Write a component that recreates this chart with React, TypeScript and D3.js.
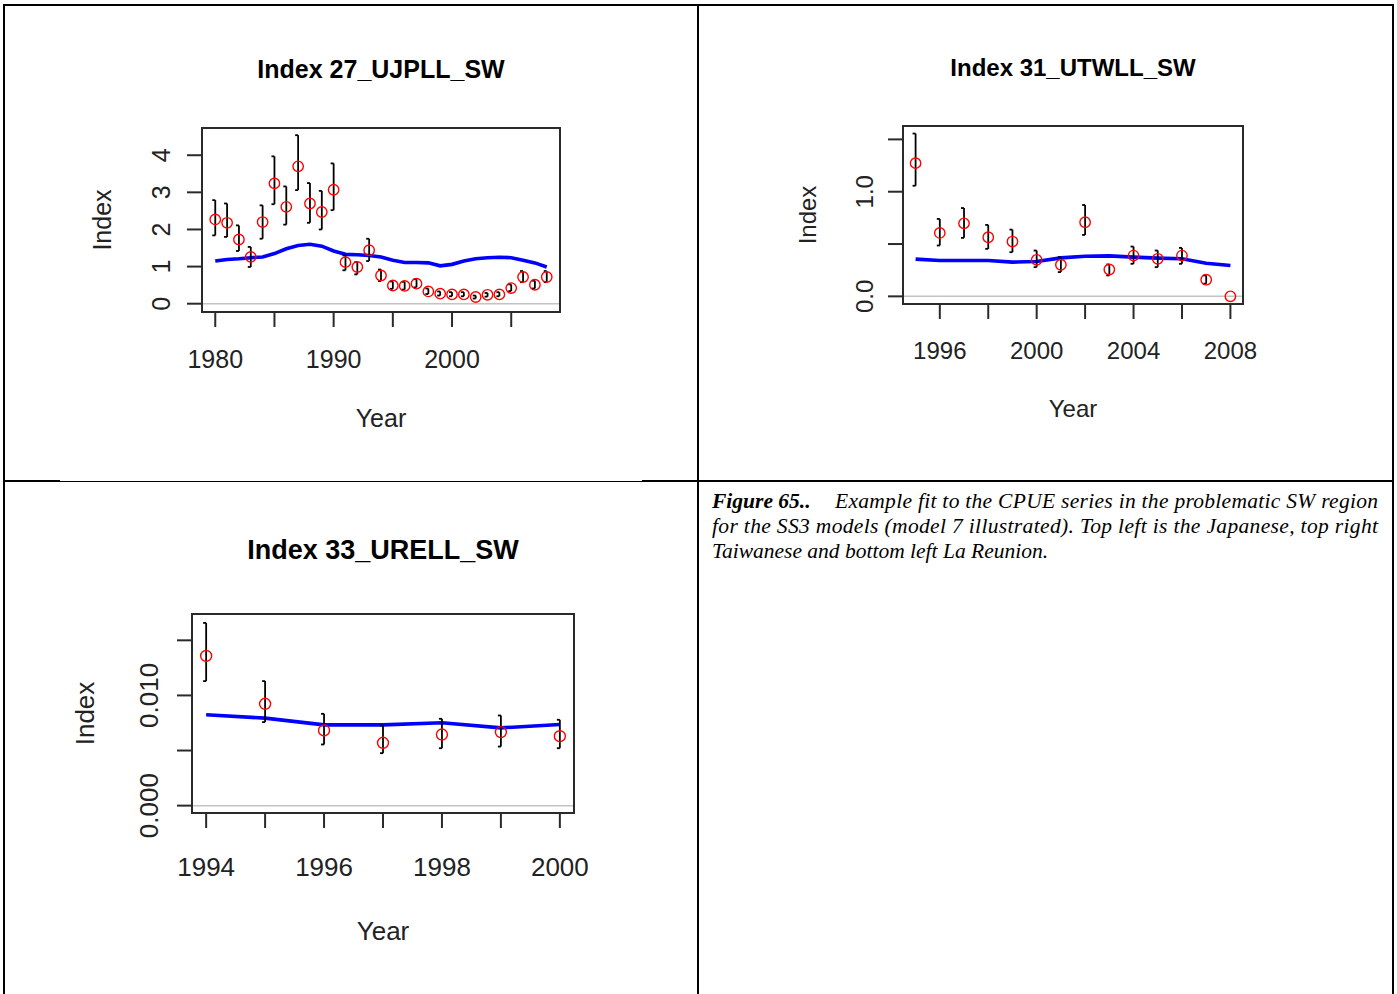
import { line, scaleLinear } from "d3";

// Index 27_UJPLL_SW (Japanese longline)
const jpYears = [1980, 1981, 1982, 1983, 1984, 1985, 1986, 1987, 1988, 1989, 1990, 1991, 1992, 1993, 1994, 1995, 1996, 1997, 1998, 1999, 2000, 2001, 2002, 2003, 2004, 2005, 2006, 2007, 2008];
const jpObs = [2.27, 2.18, 1.73, 1.26, 2.2, 3.24, 2.61, 3.7, 2.7, 2.47, 3.07, 1.12, 0.99, 1.44, 0.76, 0.49, 0.48, 0.54, 0.33, 0.27, 0.25, 0.25, 0.18, 0.24, 0.25, 0.42, 0.72, 0.51, 0.72];
const jpLo = [1.84, 1.8, 1.42, 0.99, 1.75, 2.68, 2.13, 3.06, 2.18, 2.0, 2.52, 0.9, 0.79, 1.15, 0.61, 0.4, 0.38, 0.44, 0.26, 0.22, 0.2, 0.2, 0.14, 0.19, 0.2, 0.34, 0.58, 0.41, 0.58];
const jpHi = [2.79, 2.7, 2.11, 1.53, 2.65, 3.97, 3.16, 4.54, 3.25, 3.04, 3.78, 1.3, 1.12, 1.75, 0.92, 0.6, 0.59, 0.66, 0.41, 0.33, 0.31, 0.31, 0.22, 0.29, 0.31, 0.52, 0.88, 0.62, 0.88];
const jpExp = [1.15, 1.19, 1.21, 1.24, 1.26, 1.35, 1.48, 1.57, 1.6, 1.55, 1.42, 1.33, 1.32, 1.3, 1.26, 1.17, 1.11, 1.11, 1.1, 1.02, 1.06, 1.15, 1.21, 1.24, 1.25, 1.24, 1.17, 1.1, 0.99];

// Index 31_UTWLL_SW (Taiwanese longline)
const twYears = [1995, 1996, 1997, 1998, 1999, 2000, 2001, 2002, 2003, 2004, 2005, 2006, 2007, 2008];
const twObs = [1.273, 0.606, 0.698, 0.565, 0.524, 0.349, 0.302, 0.708, 0.257, 0.39, 0.359, 0.39, 0.159, 0.0];
const twLo = [1.057, 0.486, 0.559, 0.454, 0.422, 0.279, 0.232, 0.587, 0.2, 0.311, 0.279, 0.311, 0.121, 0.0];
const twHi = [1.556, 0.74, 0.844, 0.683, 0.638, 0.438, 0.375, 0.873, 0.305, 0.476, 0.438, 0.463, 0.2, 0.0];
const twExp = [0.356, 0.343, 0.343, 0.343, 0.327, 0.333, 0.368, 0.384, 0.387, 0.375, 0.365, 0.359, 0.317, 0.295];

// Index 33_URELL_SW (La Reunion longline)
const reYears = [1994, 1995, 1996, 1997, 1998, 1999, 2000];
const reObs = [0.01358, 0.00924, 0.00682, 0.0057, 0.00645, 0.00667, 0.0063];
const reLo = [0.0113, 0.00758, 0.00555, 0.00476, 0.00521, 0.00536, 0.00521];
const reHi = [0.01658, 0.0113, 0.00833, 0.00727, 0.00788, 0.00818, 0.00779];
const reExp = [0.00824, 0.00794, 0.00733, 0.00733, 0.00752, 0.00706, 0.00736];

const jpXTicks = [1980, 1985, 1990, 1995, 2000, 2005];
const jpXLabels = [1980, 1990, 2000];
const jpYTicks = [0, 1, 2, 3, 4];
const jpYLabels = ["0", "1", "2", "3", "4"];

const twXTicks = [1996, 1998, 2000, 2002, 2004, 2006, 2008];
const twXLabels = [1996, 2000, 2004, 2008];
const twYTicks = [0, 0.5, 1.0, 1.5];
const twYLabels = ["0.0", "", "1.0", ""];

const reXTicks = [1994, 1995, 1996, 1997, 1998, 1999, 2000];
const reXLabels = [1994, 1996, 1998, 2000];
const reYTicks = [0, 0.005, 0.01, 0.015];
const reYLabels = ["0.000", "", "0.010", ""];

const captionLines = [
  "Example fit to the CPUE series in the problematic SW region",
  "for the SS3 models (model 7 illustrated).  Top left is the Japanese, top right",
  "Taiwanese and bottom left La Reunion."
];

interface PanelProps {
  readonly title: string;
  readonly years: readonly number[];
  readonly obs: readonly number[];
  readonly lo: readonly number[];
  readonly hi: readonly number[];
  readonly exp: readonly number[];
  readonly yLim: readonly [number, number];
  readonly xTicks: readonly number[];
  readonly xLabels: readonly number[];
  readonly yTicks: readonly number[];
  readonly yLabels: readonly string[];
  readonly box: { left: number; top: number; right: number; bottom: number };
  readonly fontSize: number;
  readonly titleSize: number;
  readonly titleY: number;
  readonly xLabelY: number;
  readonly xTitleY: number;
  readonly yLabelX: number;
  readonly yTitleX: number;
  readonly radius: number;
}

const sans = "'Liberation Sans', Arial, sans-serif";

function Panel(p: PanelProps): React.JSX.Element {
  const { box } = p;
  const x0 = p.years[0];
  const x1 = p.years[p.years.length - 1];
  const xPad = (x1 - x0) * 0.04;
  const yPad = (p.yLim[1] - p.yLim[0]) * 0.04;
  const x = scaleLinear().domain([x0 - xPad, x1 + xPad]).range([box.left, box.right]);
  const y = scaleLinear()
    .domain([p.yLim[0] - yPad, p.yLim[1] + yPad])
    .range([box.bottom, box.top]);
  const expLine = line<number>()
    .x((_, i) => x(p.years[i]))
    .y((d) => y(d));
  const cx = (box.left + box.right) / 2;
  const cy = (box.top + box.bottom) / 2;
  const tick = 15;

  return (
    <g fontFamily={sans}>
      <text x={cx} y={p.titleY} textAnchor="middle" fontWeight="bold" fontSize={p.titleSize} fill="#000">
        {p.title}
      </text>
      {/* zero reference */}
      <line x1={box.left} x2={box.right} y1={y(0)} y2={y(0)} stroke="#c4c4c4" strokeWidth={1.5} />
      <path d={expLine(p.exp) ?? ""} fill="none" stroke="#0000ff" strokeWidth={3.6} />
      {p.years.map((yr, i) =>
        p.hi[i] > p.lo[i] ? (
          <g key={`e${yr}`} stroke="#000" strokeWidth={1.8}>
            <line x1={x(yr)} x2={x(yr)} y1={y(p.lo[i])} y2={y(p.hi[i])} />
            <line x1={x(yr) - 3} x2={x(yr)} y1={y(p.lo[i])} y2={y(p.lo[i])} />
            <line x1={x(yr) - 3} x2={x(yr)} y1={y(p.hi[i])} y2={y(p.hi[i])} />
          </g>
        ) : null
      )}
      {p.years.map((yr, i) => (
        <circle key={`c${yr}`} cx={x(yr)} cy={y(p.obs[i])} r={p.radius} fill="none" stroke="#ff0000" strokeWidth={1.4} />
      ))}
      <rect
        x={box.left}
        y={box.top}
        width={box.right - box.left}
        height={box.bottom - box.top}
        fill="none"
        stroke="#2a2a2a"
        strokeWidth={2}
      />
      {/* x axis */}
      <line x1={x(p.xTicks[0])} x2={x(p.xTicks[p.xTicks.length - 1])} y1={box.bottom} y2={box.bottom} stroke="#2a2a2a" strokeWidth={2} />
      {p.xTicks.map((t) => (
        <line key={`xt${t}`} x1={x(t)} x2={x(t)} y1={box.bottom} y2={box.bottom + tick} stroke="#2a2a2a" strokeWidth={2} />
      ))}
      {p.xLabels.map((t) => (
        <text key={`xl${t}`} x={x(t)} y={p.xLabelY} textAnchor="middle" fontSize={p.fontSize} fill="#222">
          {t}
        </text>
      ))}
      <text x={cx} y={p.xTitleY} textAnchor="middle" fontSize={p.fontSize} fill="#222">
        Year
      </text>
      {/* y axis */}
      <line x1={box.left} x2={box.left} y1={y(p.yTicks[0])} y2={y(p.yTicks[p.yTicks.length - 1])} stroke="#2a2a2a" strokeWidth={2} />
      {p.yTicks.map((t, i) => (
        <g key={`yt${t}`}>
          <line x1={box.left - tick} x2={box.left} y1={y(t)} y2={y(t)} stroke="#2a2a2a" strokeWidth={2} />
          {p.yLabels[i] !== "" ? (
            <text
              transform={`translate(${p.yLabelX},${y(t)}) rotate(-90)`}
              textAnchor="middle"
              fontSize={p.fontSize}
              fill="#222"
            >
              {p.yLabels[i]}
            </text>
          ) : null}
        </g>
      ))}
      <text transform={`translate(${p.yTitleX},${cy}) rotate(-90)`} textAnchor="middle" fontSize={p.fontSize} fill="#222">
        Index
      </text>
    </g>
  );
}

export default function App(): React.JSX.Element {
  return (
    <svg
      width={1397}
      height={994}
      viewBox="0 0 1397 994"
      style={{ position: "absolute", left: 0, top: 0, background: "#fff" }}
    >
      <rect x={0} y={0} width={1397} height={994} fill="#fff" />
      {/* table frame */}
      <g stroke="#000">
        <line x1={3} x2={1394} y1={5} y2={5} strokeWidth={2} />
        <line x1={4} x2={4} y1={4} y2={994} strokeWidth={2} />
        <line x1={698} x2={698} y1={4} y2={994} strokeWidth={2} />
        <line x1={1393} x2={1393} y1={4} y2={994} strokeWidth={2} />
        <line x1={4} x2={1393} y1={481.5} y2={481.5} strokeWidth={1} />
        <line x1={4} x2={60} y1={481} y2={481} strokeWidth={2} />
        <line x1={642} x2={1393} y1={481} y2={481} strokeWidth={2} />
      </g>

      <Panel
        title="Index 27_UJPLL_SW"
        years={jpYears}
        obs={jpObs}
        lo={jpLo}
        hi={jpHi}
        exp={jpExp}
        yLim={[-0.04, 4.55]}
        xTicks={jpXTicks}
        xLabels={jpXLabels}
        yTicks={jpYTicks}
        yLabels={jpYLabels}
        box={{ left: 202, top: 128, right: 560, bottom: 312 }}
        fontSize={25}
        titleSize={25}
        titleY={78}
        xLabelY={368}
        xTitleY={427}
        yLabelX={170}
        yTitleX={111}
        radius={5.2}
      />
      <Panel
        title="Index 31_UTWLL_SW"
        years={twYears}
        obs={twObs}
        lo={twLo}
        hi={twHi}
        exp={twExp}
        yLim={[-0.01, 1.565]}
        xTicks={twXTicks}
        xLabels={twXLabels}
        yTicks={twYTicks}
        yLabels={twYLabels}
        box={{ left: 903, top: 126, right: 1243, bottom: 304 }}
        fontSize={24}
        titleSize={24}
        titleY={76}
        xLabelY={359}
        xTitleY={417}
        yLabelX={873}
        yTitleX={816}
        radius={5.2}
      />
      <Panel
        title="Index 33_URELL_SW"
        years={reYears}
        obs={reObs}
        lo={reLo}
        hi={reHi}
        exp={reExp}
        yLim={[0, 0.01672]}
        xTicks={reXTicks}
        xLabels={reXLabels}
        yTicks={reYTicks}
        yLabels={reYLabels}
        box={{ left: 192, top: 614, right: 574, bottom: 813 }}
        fontSize={26}
        titleSize={27}
        titleY={559}
        xLabelY={876}
        xTitleY={940}
        yLabelX={158}
        yTitleX={94}
        radius={5.5}
      />

      {/* caption */}
      <g fontFamily="'Liberation Serif', 'Times New Roman', serif" fontStyle="italic" fontSize={21.5} fill="#000">
        <text x={712} y={508} fontWeight="bold">
          Figure 65..
        </text>
        <text x={835} y={508} textLength={543} lengthAdjust="spacing">
          {captionLines[0]}
        </text>
        <text x={712} y={533} textLength={666} lengthAdjust="spacing">
          {captionLines[1]}
        </text>
        <text x={712} y={558}>
          {captionLines[2]}
        </text>
      </g>
    </svg>
  );
}
